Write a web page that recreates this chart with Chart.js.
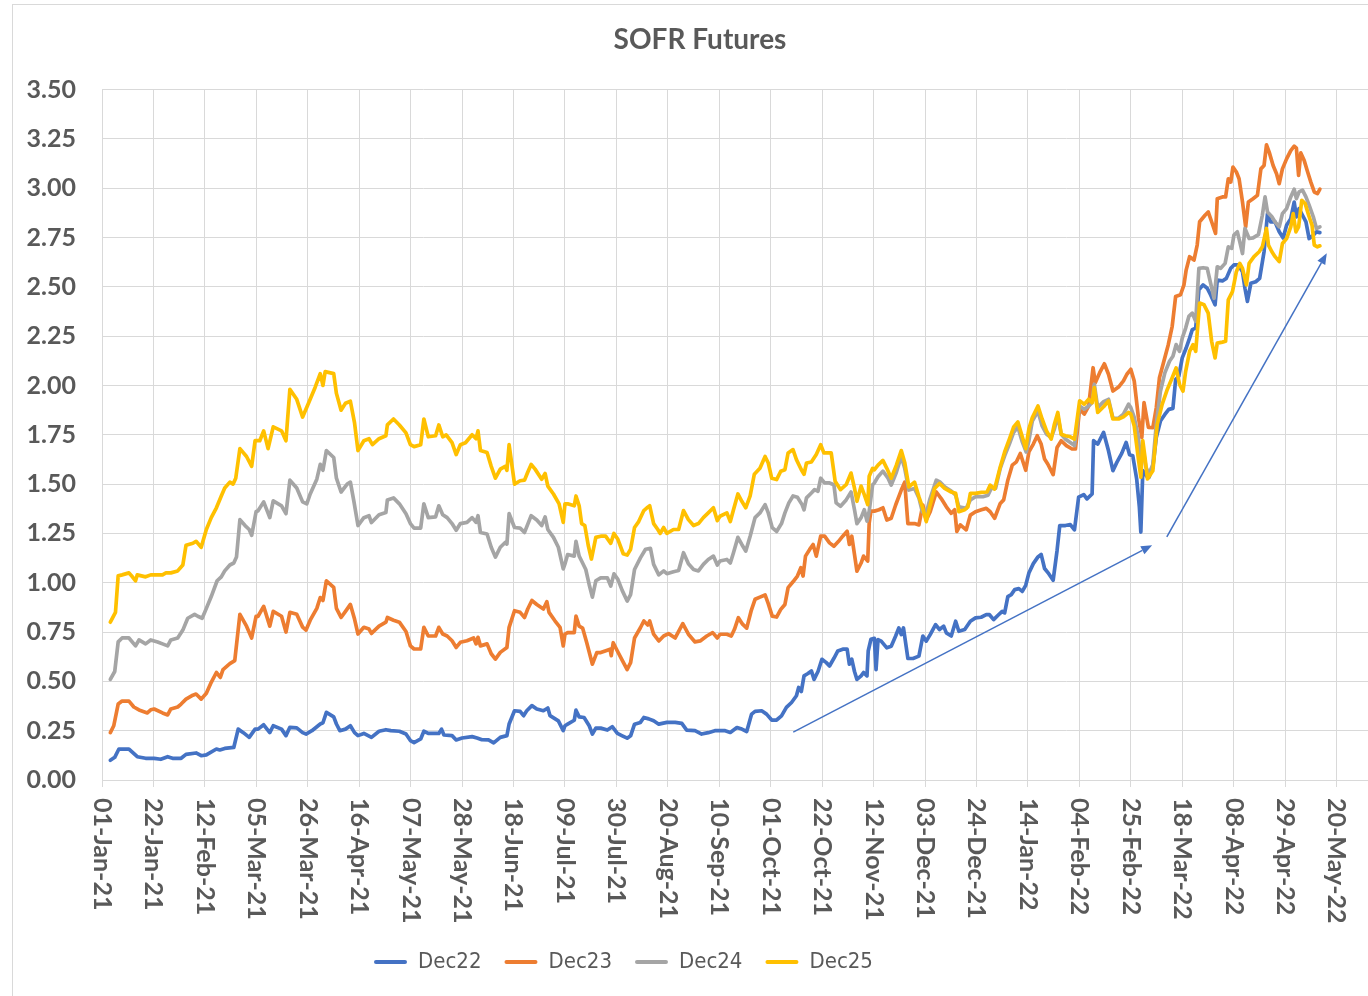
<!DOCTYPE html>
<html>
<head>
<meta charset="utf-8">
<title>SOFR Futures</title>
<script src="https://cdn.jsdelivr.net/npm/chart.js@4.4.1/dist/chart.umd.min.js"></script>
<style>
  html, body { margin: 0; padding: 0; background: #fff; overflow: hidden; }
  #wrap { width: 1388px; height: 996px; }
</style>
</head>
<body>
<div id="wrap"><canvas id="sofrChart" width="1388" height="996"></canvas></div>
<script>
// days since 01-Jan-21, settlement-implied rate (%)
const dec22 = [
  [3.4,0.10],[5.2,0.115],[6.9,0.157],[11.0,0.157],[14.4,0.118],[17.8,0.11],[21.3,0.11],[24.0,0.105],[26.8,0.118],[28.8,0.11],[32.3,0.11],[34.3,0.13],[38.4,0.137],[40.5,0.123],[42.6,0.127],[46.7,0.157],[48.1,0.152],[50.1,0.16],[53.8,0.165],[55.6,0.258],[57.7,0.24],[60.1,0.216],[62.5,0.258],
  [63.7,0.258],[66.0,0.28],[68.5,0.24],[69.9,0.275],[73.3,0.258],[75.1,0.225],[76.7,0.267],[79.5,0.264],[81.9,0.24],[83.3,0.233],[85.7,0.25],[89.1,0.284],[90.2,0.29],[91.6,0.343],[94.6,0.32],[95.7,0.284],[97.1,0.25],[99.4,0.258],[101.4,0.275],[103.1,0.24],[104.5,0.225],[106.9,0.236],[110.0,0.216],[113.1,0.247],[115.9,0.255],[117.9,0.25],[121.4,0.247],[124.1,0.233],[125.9,0.20],
  [127.4,0.19],[130.1,0.208],[131.4,0.247],[133.2,0.236],[137.5,0.236],[138.6,0.258],[139.6,0.228],[142.9,0.225],[144.6,0.203],[147.0,0.213],[151.1,0.22],[153.1,0.213],[155.1,0.204],[157.8,0.203],[159.9,0.188],[162.6,0.216],[165.3,0.225],[166.2,0.284],[168.4,0.351],[170.7,0.348],[172.1,0.326],[173.4,0.351],[175.5,0.377],[177.5,0.36],[180.2,0.351],[182.0,0.365],[182.9,0.326],[186.3,0.30],[188.3,0.25],[189.0,0.275],
  [190.1,0.283],[192.8,0.303],[193.5,0.354],[194.8,0.32],[196.8,0.317],[198.9,0.275],[200.2,0.233],[201.6,0.263],[203.6,0.263],[206.3,0.253],[208.3,0.27],[210.4,0.236],[212.4,0.224],[214.4,0.212],[215.8,0.224],[217.4,0.283],[219.8,0.292],[221.2,0.317],[223.2,0.31],[225.2,0.30],[227.3,0.283],[230.6,0.292],[234.0,0.292],[236.7,0.287],[238.7,0.253],[242.1,0.25],[244.8,0.233],[247.5,0.24],[250.2,0.25],[252.3,0.25],
  [254.4,0.25],[256.5,0.241],[259.2,0.266],[261.2,0.258],[263.2,0.246],[265.2,0.334],[266.6,0.348],[269.3,0.351],[271.3,0.334],[273.4,0.304],[275.4,0.304],[277.4,0.325],[279.4,0.368],[281.5,0.393],[283.5,0.427],[284.4,0.469],[285.5,0.449],[286.6,0.528],[288.2,0.54],[289.6,0.553],[290.7,0.51],[292.3,0.55],[293.9,0.612],[295.7,0.595],[297.0,0.578],[298.8,0.617],[300.4,0.654],[302.4,0.663],[304.2,0.663],[305.1,0.587],[306.1,0.612],[307.2,0.55],[308.2,0.51],[309.9,0.528],[310.9,0.545],[312.3,0.528],[312.8,0.654],[313.9,0.713],[315.3,0.718],
  [316.0,0.56],[316.8,0.712],[318.1,0.704],[320.4,0.67],[322.2,0.678],[324.0,0.73],[325.3,0.771],[326.3,0.737],[327.2,0.771],[329.0,0.616],[331.1,0.616],[333.5,0.628],[335.1,0.73],[336.5,0.704],[338.1,0.737],[340.3,0.788],[341.9,0.763],[343.6,0.78],[344.7,0.746],[346.7,0.73],[348.5,0.805],[349.8,0.754],[352.2,0.763],[354.5,0.805],[356.6,0.822],[358.9,0.825],[361.0,0.838],[362.3,0.838],[364.0,0.813],[365.8,0.835],[367.5,0.855],[368.5,0.847],[369.8,0.93],[371.2,0.94],[372.6,0.965],[374.3,0.97],[375.7,0.956],[377.1,0.987],[378.4,1.049],
  [380.2,1.097],[382.1,1.131],[383.4,1.144],[384.8,1.072],[386.5,1.046],[388.3,1.013],[389.9,1.164],[391.0,1.29],[393.3,1.29],[395.3,1.295],[397.0,1.268],[398.7,1.434],[400.8,1.447],[402.1,1.425],[404.2,1.45],[404.8,1.72],[406.5,1.703],[408.9,1.762],[410.9,1.669],[412.7,1.568],[414.3,1.61],[416.3,1.656],[418.1,1.711],[419.5,1.649],[420.8,1.644],[422.4,1.526],[423.5,1.383],[424.1,1.257],[424.9,1.568],[426.8,1.535],
  [427.4,1.534],[429.0,1.585],[430.4,1.736],[432.1,1.82],[433.9,1.853],[435.5,1.879],[437.2,1.884],[438.3,2.03],[439.6,2.047],[441.0,2.14],[442.6,2.19],[444.0,2.24],[445.1,2.283],[446.5,2.291],[447.8,2.485],[449.5,2.51],[451.2,2.493],[452.6,2.459],[454.4,2.409],[455.3,2.535],[457.4,2.53],[459.0,2.543],[460.8,2.594],[462.1,2.611],[463.9,2.611],[465.6,2.577],[466.6,2.493],[467.6,2.426],[469.0,2.518],[471.0,2.526],[472.6,2.543],[474.4,2.678],[475.8,2.871],[477.1,2.829],[478.9,2.829],[480.6,2.779],[482.2,2.748],[483.6,2.812],[485.3,2.846],[486.7,2.93],[487.6,2.855],[488.7,2.897],[490.1,2.863],[491.5,2.829],[492.8,2.745],[494.5,2.762],[495.8,2.779],[497.2,2.775]
];

const dec23 = [
  [3.4,0.24],[4.8,0.275],[6.6,0.385],[8.2,0.40],[11.0,0.40],[13.0,0.37],[15.1,0.355],[18.5,0.34],[19.9,0.356],[21.3,0.36],[24.7,0.34],[26.8,0.33],[28.1,0.36],[30.9,0.37],[32.3,0.385],[34.3,0.41],[37.1,0.43],[38.4,0.436],[40.5,0.41],[42.6,0.44],[44.6,0.495],[46.7,0.545],[48.3,0.52],[49.4,0.56],[52.2,0.59],[54.2,0.605],[56.3,0.84],[59.0,0.78],[61.1,0.72],[62.9,0.83],
  [63.7,0.83],[66.0,0.88],[68.5,0.78],[69.9,0.855],[73.3,0.83],[75.1,0.75],[76.7,0.85],[79.5,0.84],[81.9,0.775],[83.3,0.76],[85.0,0.81],[87.7,0.87],[89.1,0.925],[90.2,0.91],[91.6,1.01],[94.6,0.976],[95.7,0.87],[97.6,0.824],[99.4,0.855],[101.4,0.89],[103.1,0.816],[104.5,0.74],[106.9,0.774],[109.0,0.765],[110.0,0.743],[113.1,0.78],[115.9,0.80],[116.5,0.824],[119.0,0.81],[121.4,0.80],[124.1,0.753],[125.9,0.68],
  [127.4,0.664],[130.1,0.664],[131.4,0.774],[133.2,0.73],[136.2,0.73],[137.5,0.774],[139.1,0.74],[140.9,0.73],[142.9,0.706],[144.6,0.672],[146.3,0.698],[149.0,0.706],[151.7,0.72],[152.7,0.69],[153.5,0.723],[154.5,0.68],[157.2,0.69],[158.9,0.64],[160.6,0.613],[162.6,0.647],[165.3,0.672],[166.2,0.774],[168.4,0.858],[170.7,0.85],[172.5,0.824],[173.8,0.867],[175.5,0.91],[177.5,0.89],[180.2,0.867],[181.6,0.904],[182.5,0.85],[184.9,0.807],[187.0,0.774],[188.3,0.68],[189.0,0.74],
  [190.1,0.747],[192.8,0.747],[193.5,0.831],[194.8,0.78],[196.2,0.77],[197.9,0.696],[200.2,0.587],[202.0,0.646],[203.6,0.646],[206.3,0.658],[207.4,0.663],[207.9,0.63],[208.7,0.696],[210.4,0.654],[212.4,0.607],[214.4,0.56],[215.8,0.595],[217.4,0.72],[219.8,0.772],[221.2,0.806],[222.8,0.786],[223.6,0.806],[225.2,0.739],[227.3,0.705],[229.3,0.73],[231.3,0.742],[234.0,0.72],[237.1,0.793],[239.4,0.739],[242.1,0.70],[244.2,0.705],[246.9,0.73],[249.3,0.747],[251.2,0.72],[252.3,0.739],
  [255.1,0.739],[256.9,0.73],[258.2,0.764],[259.8,0.823],[261.5,0.79],[263.2,0.77],[265.0,0.857],[266.6,0.916],[268.6,0.927],[270.7,0.938],[272.0,0.894],[273.6,0.831],[275.4,0.826],[277.1,0.865],[278.8,0.89],[280.1,0.975],[282.1,1.005],[283.9,1.034],[285.3,1.076],[286.2,1.034],[287.2,1.135],[288.9,1.169],[290.3,1.194],[291.6,1.135],[293.4,1.236],[295.0,1.236],[297.0,1.202],[298.8,1.185],[300.7,1.21],[302.4,1.236],[304.2,1.261],[305.1,1.194],[306.1,1.236],[307.2,1.143],[308.2,1.059],[309.9,1.10],[310.9,1.135],[312.6,1.11],[313.2,1.303],[313.9,1.363],[315.3,1.363],
  [317.2,1.37],[318.8,1.38],[320.4,1.318],[322.2,1.327],[324.0,1.394],[326.3,1.47],[327.7,1.51],[329.0,1.30],[331.7,1.30],[333.5,1.293],[335.1,1.394],[336.5,1.318],[338.1,1.36],[340.6,1.46],[342.6,1.427],[344.7,1.385],[346.7,1.352],[348.1,1.37],[349.0,1.26],[350.4,1.293],[352.8,1.268],[354.5,1.343],[356.6,1.36],[359.0,1.37],[361.0,1.377],[362.6,1.36],[364.4,1.327],[366.7,1.402],[368.1,1.42],[369.8,1.52],[371.6,1.596],[373.3,1.613],[374.9,1.655],[377.1,1.57],[378.4,1.663],
  [380.2,1.703],[381.8,1.745],[383.4,1.703],[384.8,1.627],[386.1,1.602],[388.3,1.548],[389.9,1.686],[391.6,1.72],[393.7,1.695],[396.0,1.678],[397.4,1.678],[399.1,1.88],[401.0,1.855],[402.8,1.896],[404.6,2.09],[405.5,2.014],[407.3,2.065],[409.2,2.11],[410.9,2.057],[412.7,1.972],[415.0,1.992],[417.0,2.023],[418.4,2.057],[420.0,2.082],[421.4,2.023],[423.1,1.838],[424.5,1.737],[425.4,1.913],[427.2,1.787],
  [429.0,1.786],[430.4,1.887],[431.7,2.039],[433.5,2.123],[435.3,2.207],[436.9,2.30],[438.3,2.451],[440.3,2.46],[441.7,2.51],[442.6,2.585],[444.0,2.653],[445.8,2.636],[447.1,2.712],[448.1,2.83],[450.3,2.863],[451.6,2.88],[453.0,2.83],[454.6,2.771],[455.3,2.947],[457.4,2.956],[458.7,2.956],[459.8,3.048],[460.8,3.031],[461.7,3.107],[463.1,3.082],[464.2,3.048],[465.6,2.93],[466.9,2.804],[468.0,2.93],[469.9,2.947],[471.7,2.964],[473.1,3.098],[474.4,3.115],[475.4,3.22],[476.5,3.183],[478.1,3.115],[479.5,3.073],[480.6,3.023],[481.9,3.098],[483.6,3.149],[485.3,3.191],[486.7,3.213],[487.6,3.203],[488.5,3.065],[489.4,3.179],[490.8,3.14],[492.2,3.082],[493.5,3.031],[494.9,2.981],[496.2,2.973],[497.2,2.995]
];

const dec24 = [
  [3.4,0.51],[5.2,0.55],[6.6,0.70],[8.2,0.72],[11.0,0.72],[13.7,0.68],[15.1,0.71],[17.8,0.69],[19.9,0.71],[22.7,0.70],[24.7,0.69],[26.8,0.68],[28.1,0.71],[30.9,0.72],[33.0,0.76],[35.0,0.82],[37.8,0.84],[39.1,0.83],[40.9,0.82],[42.6,0.87],[44.6,0.93],[47.0,1.01],[48.7,1.03],[50.1,1.06],[52.2,1.09],[53.8,1.10],[54.9,1.13],[56.3,1.32],[58.4,1.29],[60.1,1.27],[61.1,1.24],[62.9,1.36],
  [63.7,1.365],[66.0,1.41],[68.5,1.33],[69.9,1.415],[73.3,1.39],[75.1,1.35],[76.7,1.52],[79.5,1.48],[81.9,1.41],[83.6,1.40],[85.0,1.45],[87.7,1.525],[89.1,1.60],[90.2,1.57],[91.6,1.67],[94.6,1.635],[95.7,1.53],[97.6,1.46],[100.1,1.50],[101.4,1.51],[102.8,1.415],[104.5,1.29],[106.9,1.33],[109.0,1.34],[110.0,1.305],[113.1,1.345],[115.9,1.356],[116.5,1.42],[119.0,1.43],[121.4,1.40],[124.1,1.35],[125.9,1.30],
  [127.4,1.277],[130.1,1.277],[131.4,1.40],[133.2,1.33],[136.2,1.334],[137.5,1.39],[139.1,1.345],[140.9,1.33],[142.9,1.30],[144.6,1.266],[146.3,1.30],[149.0,1.306],[151.1,1.33],[152.7,1.306],[153.5,1.34],[154.5,1.255],[157.2,1.247],[158.9,1.18],[160.6,1.13],[162.6,1.18],[164.6,1.204],[165.3,1.196],[166.2,1.35],[168.4,1.28],[170.7,1.277],[172.5,1.255],[175.2,1.34],[177.5,1.318],[179.5,1.29],[180.9,1.334],[182.0,1.27],[184.3,1.23],[186.3,1.18],[188.3,1.07],[189.0,1.095],
  [190.1,1.143],[192.8,1.135],[193.5,1.21],[194.8,1.135],[195.8,1.11],[197.5,1.067],[198.9,0.99],[200.2,0.927],[201.6,1.01],[203.6,1.025],[206.3,1.025],[207.7,0.983],[209.0,1.045],[210.6,1.017],[212.4,0.96],[214.4,0.907],[215.8,0.94],[217.4,1.067],[219.8,1.126],[221.9,1.17],[223.9,1.174],[225.2,1.093],[227.3,1.04],[229.3,1.06],[230.6,1.046],[233.3,1.056],[235.4,1.062],[237.4,1.152],[239.4,1.096],[241.5,1.067],[243.5,1.06],[245.5,1.093],[247.5,1.118],[249.6,1.135],[251.2,1.09],[252.3,1.11],
  [255.1,1.118],[256.5,1.10],[257.8,1.152],[259.6,1.23],[261.2,1.194],[262.8,1.16],[264.6,1.236],[266.6,1.33],[268.6,1.354],[270.7,1.396],[272.0,1.354],[273.6,1.28],[275.4,1.26],[277.4,1.30],[278.8,1.354],[280.4,1.405],[282.1,1.44],[283.9,1.433],[285.8,1.396],[286.6,1.37],[287.6,1.43],[289.6,1.455],[290.9,1.472],[292.3,1.464],[293.4,1.53],[295.0,1.506],[297.0,1.506],[298.8,1.497],[299.7,1.405],[301.5,1.388],[303.8,1.42],[305.8,1.46],[307.2,1.37],[308.2,1.30],[309.9,1.33],[311.2,1.37],[312.3,1.312],[313.2,1.363],[314.6,1.497],[315.3,1.506],
  [316.8,1.537],[318.8,1.566],[320.9,1.53],[322.2,1.495],[324.3,1.56],[326.3,1.64],[327.7,1.58],[329.4,1.47],[331.7,1.478],[333.5,1.43],[334.9,1.36],[336.5,1.352],[337.9,1.42],[340.6,1.52],[342.2,1.51],[344.0,1.486],[346.7,1.465],[348.5,1.444],[349.8,1.385],[352.8,1.377],[354.5,1.42],[356.6,1.436],[359.6,1.436],[361.7,1.444],[363.0,1.478],[364.8,1.478],[366.7,1.58],[368.5,1.643],[370.5,1.705],[372.2,1.763],[373.9,1.79],[375.7,1.714],[377.3,1.663],[378.4,1.72],
  [379.8,1.82],[382.1,1.87],[383.8,1.795],[385.6,1.753],[387.5,1.737],[388.8,1.779],[390.2,1.846],[391.6,1.753],[393.3,1.728],[395.3,1.711],[397.0,1.695],[399.1,1.896],[401.0,1.88],[402.8,1.896],[404.2,1.913],[405.1,2.006],[406.5,1.888],[408.9,1.918],[410.9,1.93],[412.7,1.834],[415.0,1.834],[417.0,1.855],[419.1,1.905],[420.0,1.888],[421.4,1.838],[423.1,1.737],[424.1,1.602],[424.9,1.686],[426.2,1.585],
  [427.4,1.55],[429.0,1.60],[430.4,1.803],[432.1,1.971],[433.9,2.064],[435.8,2.123],[437.2,2.148],[438.5,2.207],[439.9,2.173],[441.0,2.24],[442.4,2.291],[443.7,2.35],[445.1,2.367],[446.5,2.325],[447.8,2.594],[449.5,2.597],[451.2,2.594],[452.6,2.518],[454.0,2.442],[455.3,2.602],[456.7,2.594],[458.5,2.619],[459.8,2.703],[461.2,2.695],[462.1,2.762],[463.5,2.779],[464.5,2.728],[465.6,2.669],[466.6,2.796],[468.3,2.745],[469.9,2.748],[472.1,2.765],[473.7,2.863],[474.8,2.956],[475.8,2.88],[477.6,2.855],[478.9,2.829],[480.6,2.804],[481.9,2.871],[483.6,2.897],[485.3,2.956],[486.7,2.995],[487.6,2.947],[488.7,2.981],[490.1,2.99],[491.5,2.956],[492.8,2.914],[494.5,2.855],[495.8,2.796],[497.2,2.804]
];

const dec25 = [
  [3.4,0.80],[5.5,0.85],[6.6,1.035],[8.2,1.04],[11.0,1.05],[12.4,1.03],[13.7,1.01],[14.4,1.04],[17.8,1.03],[19.9,1.04],[22.0,1.04],[24.7,1.04],[26.1,1.05],[28.1,1.05],[30.9,1.06],[33.0,1.09],[34.3,1.19],[37.1,1.20],[38.4,1.21],[40.5,1.18],[42.6,1.27],[44.6,1.33],[46.7,1.38],[48.7,1.44],[50.1,1.48],[52.2,1.51],[53.5,1.50],[54.6,1.53],[56.3,1.68],[59.0,1.64],[61.1,1.59],[62.5,1.72],
  [64.4,1.72],[66.0,1.77],[67.8,1.68],[69.9,1.79],[73.3,1.77],[75.1,1.72],[76.7,1.98],[79.5,1.93],[81.9,1.84],[84.3,1.91],[87.0,1.99],[89.1,2.06],[90.2,2.00],[91.1,2.07],[94.6,2.06],[95.7,1.96],[97.6,1.875],[99.4,1.91],[101.4,1.92],[103.1,1.81],[104.5,1.67],[106.9,1.72],[109.0,1.73],[110.4,1.70],[113.1,1.73],[115.9,1.745],[116.5,1.80],[119.0,1.83],[121.4,1.80],[124.1,1.76],[125.9,1.70],
  [127.4,1.69],[130.1,1.70],[131.4,1.83],[133.2,1.74],[136.2,1.745],[137.5,1.80],[139.1,1.74],[140.5,1.75],[142.9,1.71],[144.6,1.65],[146.3,1.70],[148.4,1.71],[151.1,1.75],[152.7,1.73],[153.5,1.77],[154.5,1.67],[157.2,1.66],[158.9,1.59],[160.6,1.53],[162.6,1.576],[164.6,1.59],[165.3,1.57],[166.2,1.70],[168.4,1.50],[170.7,1.517],[172.5,1.52],[173.8,1.56],[175.2,1.60],[176.8,1.576],[179.5,1.525],[180.9,1.554],[182.0,1.49],[184.3,1.45],[186.6,1.40],[188.3,1.306],[189.0,1.40],
  [190.1,1.40],[192.8,1.39],[193.5,1.44],[194.8,1.39],[195.8,1.30],[197.1,1.29],[198.5,1.19],[199.8,1.12],[201.6,1.23],[203.6,1.236],[205.6,1.236],[207.7,1.20],[209.0,1.25],[210.6,1.22],[212.8,1.147],[214.4,1.14],[215.8,1.17],[217.4,1.28],[219.1,1.31],[221.2,1.366],[222.8,1.383],[223.6,1.39],[225.2,1.30],[226.9,1.27],[227.9,1.25],[229.3,1.28],[230.6,1.25],[233.3,1.27],[235.4,1.27],[237.4,1.366],[239.4,1.32],[241.5,1.29],[243.5,1.30],[245.5,1.33],[247.5,1.354],[249.6,1.38],[251.2,1.315],[252.3,1.337],
  [255.1,1.354],[256.5,1.31],[257.8,1.37],[259.6,1.45],[261.2,1.413],[262.8,1.38],[264.6,1.44],[266.3,1.55],[268.6,1.58],[270.7,1.64],[272.0,1.607],[273.4,1.53],[275.4,1.523],[277.1,1.565],[278.8,1.573],[280.1,1.658],[282.1,1.675],[283.5,1.624],[285.5,1.573],[286.6,1.55],[287.6,1.607],[289.6,1.612],[291.6,1.65],[293.4,1.70],[294.7,1.658],[297.7,1.658],[299.3,1.514],[301.5,1.472],[303.8,1.497],[305.8,1.556],[307.2,1.48],[308.2,1.413],[309.9,1.49],[311.2,1.447],[312.6,1.396],[313.2,1.54],[314.6,1.58],[315.3,1.573],
  [316.8,1.596],[318.8,1.62],[320.4,1.58],[322.2,1.53],[324.3,1.596],[326.3,1.67],[327.7,1.61],[329.4,1.486],[331.7,1.51],[333.5,1.436],[334.9,1.385],[336.5,1.31],[337.9,1.385],[339.9,1.478],[341.9,1.503],[344.0,1.478],[346.7,1.46],[348.5,1.453],[349.8,1.36],[352.2,1.37],[353.5,1.385],[354.5,1.453],[356.6,1.453],[359.0,1.458],[361.3,1.46],[362.6,1.495],[364.4,1.475],[366.7,1.587],[368.5,1.663],[370.5,1.73],[372.2,1.79],[373.9,1.815],[375.7,1.74],[377.1,1.68],[378.4,1.78],
  [379.8,1.837],[382.1,1.896],[383.8,1.83],[385.6,1.77],[387.5,1.728],[388.8,1.804],[390.2,1.863],[391.6,1.753],[393.3,1.745],[395.3,1.74],[397.0,1.728],[399.1,1.922],[401.0,1.905],[402.8,1.93],[404.2,1.913],[405.1,1.989],[406.5,1.863],[408.9,1.892],[410.9,1.922],[412.7,1.83],[415.0,1.83],[417.0,1.841],[419.1,1.863],[420.0,1.855],[421.4,1.795],[423.1,1.627],[424.1,1.535],[424.9,1.72],[425.8,1.635],[426.8,1.526],
  [429.0,1.568],[430.8,1.803],[432.8,1.904],[434.9,1.98],[436.9,2.039],[438.5,2.089],[439.9,2.005],[441.3,1.971],[442.4,2.072],[444.0,2.173],[445.4,2.207],[446.5,2.173],[448.1,2.418],[449.9,2.409],[451.6,2.367],[453.0,2.224],[454.4,2.14],[455.3,2.215],[457.4,2.22],[458.7,2.224],[459.8,2.434],[461.5,2.476],[463.1,2.577],[464.5,2.619],[465.6,2.594],[467.2,2.51],[468.3,2.619],[470.3,2.653],[472.4,2.678],[473.7,2.703],[475.4,2.796],[476.2,2.712],[477.6,2.678],[478.9,2.653],[480.6,2.628],[481.9,2.72],[483.6,2.745],[485.3,2.804],[486.3,2.871],[487.4,2.779],[488.5,2.804],[489.8,2.939],[491.2,2.922],[492.6,2.863],[494.0,2.812],[494.9,2.712],[496.2,2.703],[497.2,2.708]
];

const seriesNames = ['Dec22', 'Dec23', 'Dec24', 'Dec25'];
const seriesColors = ['#4472C4', '#ED7D31', '#A5A5A5', '#FFC000'];

const tickStep = 21; // days between date labels
const tickLabels = [
  '01-Jan-21', '22-Jan-21', '12-Feb-21', '05-Mar-21', '26-Mar-21', '16-Apr-21',
  '07-May-21', '28-May-21', '18-Jun-21', '09-Jul-21', '30-Jul-21', '20-Aug-21',
  '10-Sep-21', '01-Oct-21', '22-Oct-21', '12-Nov-21', '03-Dec-21', '24-Dec-21',
  '14-Jan-22', '04-Feb-22', '25-Feb-22', '18-Mar-22', '08-Apr-22', '29-Apr-22',
  '20-May-22'
];

// trend arrows drawn on the chart: [fromDay, fromValue, toDay, toValue]
const arrows = [
  [282.2, 0.243, 428.7, 1.19],
  [434.7, 1.233, 500.0, 2.67]
];

const TEXT_COLOR = '#595959';
const GRID_COLOR = '#D9D9D9';
const LABEL_FONT = 'Lato, "Liberation Sans", sans-serif';

const chartFrame = {
  id: 'chartFrame',
  beforeDraw(chart) {
    const { ctx } = chart;
    ctx.save();
    ctx.fillStyle = '#fff';
    ctx.fillRect(0, 0, chart.width, chart.height);
    ctx.strokeStyle = GRID_COLOR;
    ctx.lineWidth = 1;
    ctx.strokeRect(12.5, 4.5, chart.width + 20, chart.height + 20);
    ctx.restore();
  }
};

// Excel style date labels, rotated to read top to bottom
const dateLabels = {
  id: 'dateLabels',
  afterDraw(chart) {
    const { ctx, chartArea } = chart;
    const xScale = chart.scales.x;
    ctx.save();
    ctx.font = `bold 25px ${LABEL_FONT}`;
    ctx.fillStyle = TEXT_COLOR;
    ctx.textAlign = 'left';
    ctx.textBaseline = 'middle';
    tickLabels.forEach((label, i) => {
      const px = xScale.getPixelForValue(i * tickStep);
      ctx.save();
      ctx.translate(px, chartArea.bottom + 18);
      ctx.rotate(Math.PI / 2);
      ctx.fillText(label, 0, 0);
      ctx.restore();
    });
    ctx.restore();
  }
};

const trendArrows = {
  id: 'trendArrows',
  afterDatasetsDraw(chart) {
    const { ctx } = chart;
    const { x, y } = chart.scales;
    ctx.save();
    ctx.strokeStyle = '#4472C4';
    ctx.fillStyle = '#4472C4';
    ctx.lineWidth = 1.5;
    arrows.forEach(([d0, v0, d1, v1]) => {
      const x0 = x.getPixelForValue(d0);
      const y0 = y.getPixelForValue(v0);
      const x1 = x.getPixelForValue(d1);
      const y1 = y.getPixelForValue(v1);
      const ang = Math.atan2(y1 - y0, x1 - x0);
      const headLen = 11;
      const headHalf = 4.5;
      const bx = x1 - headLen * Math.cos(ang);
      const by = y1 - headLen * Math.sin(ang);
      ctx.beginPath();
      ctx.moveTo(x0, y0);
      ctx.lineTo(bx, by);
      ctx.stroke();
      ctx.beginPath();
      ctx.moveTo(x1, y1);
      ctx.lineTo(bx + headHalf * Math.sin(ang), by - headHalf * Math.cos(ang));
      ctx.lineTo(bx - headHalf * Math.sin(ang), by + headHalf * Math.cos(ang));
      ctx.closePath();
      ctx.fill();
    });
    ctx.restore();
  }
};

// legend sits left of centre in the original
const legendOffset = {
  id: 'legendOffset',
  afterLayout(chart) {
    chart.legend.left = 351;
  }
};

function buildChart() {
  const data = [dec22, dec23, dec24, dec25];
  const canvas = document.getElementById('sofrChart');

  new Chart(canvas, {
    type: 'line',
    data: {
      datasets: data.map((points, i) => ({
        label: seriesNames[i],
        data: points,
        borderColor: seriesColors[i],
        backgroundColor: seriesColors[i],
        borderWidth: 3.7,
        borderJoinStyle: 'round',
        borderCapStyle: 'round',
        pointRadius: 0,
        tension: 0,
        order: data.length - 1 - i
      }))
    },
    options: {
      responsive: false,
      animation: false,
      devicePixelRatio: 1,
      layout: { padding: { left: 12, top: 4, right: 0, bottom: 13 } },
      scales: {
        x: {
          type: 'linear',
          min: 0,
          max: 525,
          ticks: { stepSize: tickStep, display: false },
          grid: { color: GRID_COLOR, lineWidth: 1, tickLength: 7 },
          border: { color: GRID_COLOR },
          afterFit: (scale) => { scale.height = 148; }
        },
        y: {
          min: 0,
          max: 3.5,
          ticks: {
            stepSize: 0.25,
            padding: 26,
            color: TEXT_COLOR,
            font: { family: LABEL_FONT, size: 25, weight: 'bold' },
            callback: (v) => Number(v).toFixed(2)
          },
          grid: { color: GRID_COLOR, lineWidth: 1, drawTicks: false },
          border: { display: false },
          afterFit: (scale) => { scale.width = 90; }
        }
      },
      plugins: {
        title: {
          display: true,
          text: 'SOFR Futures',
          color: TEXT_COLOR,
          font: { family: LABEL_FONT, size: 28, weight: 'bold' },
          padding: { top: 19, bottom: 33 }
        },
        legend: {
          position: 'bottom',
          align: 'start',
          labels: {
            boxWidth: 33,
            boxHeight: 4,
            padding: 23,
            color: TEXT_COLOR,
            font: { family: '"DejaVu Sans Condensed", "Liberation Sans Narrow", sans-serif', size: 22 },
            sort: (a, b) => a.datasetIndex - b.datasetIndex,
            generateLabels: (chart) =>
              Chart.defaults.plugins.legend.labels.generateLabels(chart).map((item) => ({
                ...item,
                lineWidth: 0,
                borderRadius: 2
              }))
          }
        },
        tooltip: { enabled: false }
      }
    },
    plugins: [chartFrame, dateLabels, trendArrows, legendOffset]
  });
}

Promise.all([
  document.fonts.load('bold 25px Lato'),
  document.fonts.load('22px "DejaVu Sans Condensed"')
]).catch(() => {}).finally(buildChart);
</script>
</body>
</html>
